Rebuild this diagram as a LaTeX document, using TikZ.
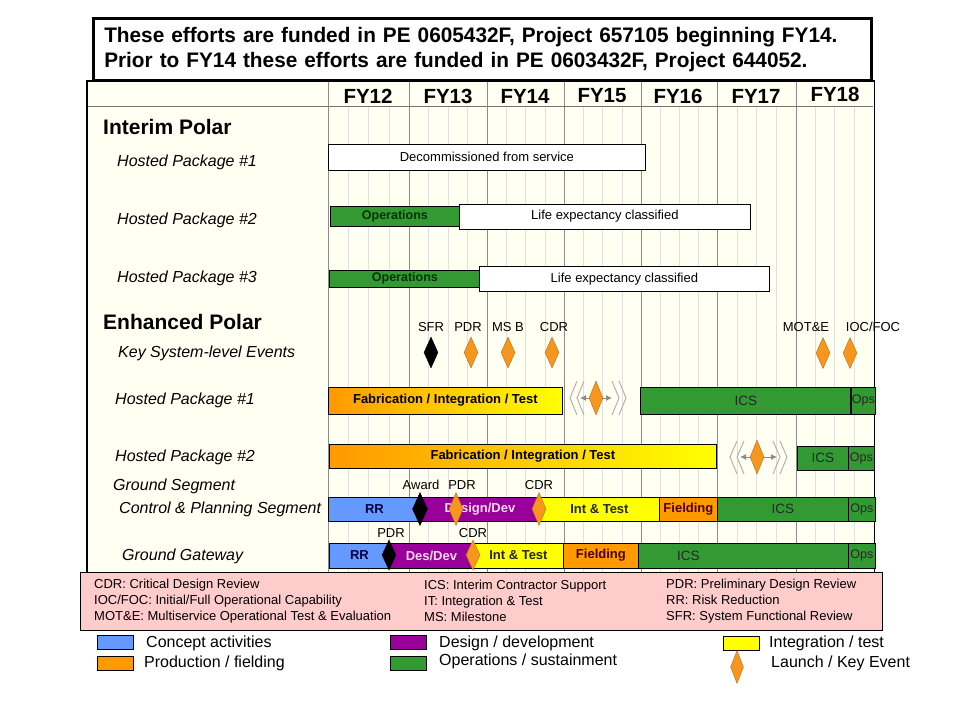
\documentclass[tikz,border=0pt]{standalone}
\usepackage{fontspec}
\setmainfont{Liberation Sans}
\newfontfamily\titlefont[FakeStretch=0.99]{Liberation Sans}
\usetikzlibrary{arrows.meta,positioning,shapes.geometric}
\definecolor{cream}{RGB}{255,255,242}
\definecolor{rrblue}{RGB}{102,153,255}
\definecolor{ddpurple}{RGB}{153,0,153}
\definecolor{ityellow}{RGB}{255,255,0}
\definecolor{pforange}{RGB}{255,153,0}
\definecolor{osgreen}{RGB}{51,153,51}
\definecolor{legpink}{RGB}{255,204,204}
\definecolor{evorange}{RGB}{247,150,30}

\begin{document}
\begin{tikzpicture}[x=1pt,y=-1pt,>=Latex,
  yrline/.style={draw=black!45,line width=0.7pt},
  qline/.style={draw=black!12,line width=0.5pt},
  fyhead/.style={font=\fontsize{20.5}{22}\selectfont\bfseries,inner sep=0pt},
  sect/.style={anchor=west,font=\fontsize{21}{23}\selectfont\bfseries,inner sep=0pt},
  rowlbl/.style={anchor=west,font=\fontsize{16}{18}\selectfont\itshape,inner sep=0pt},
  bar/.style={draw=black,line width=0.8pt,anchor=west,inner sep=0pt,font=\fontsize{13}{15}\selectfont\bfseries},
  wbar/.style={draw=black,line width=0.8pt,fill=white,anchor=west,inner sep=0pt,font=\fontsize{13}{15}\selectfont},
  plain/.style={font=\fontsize{13.5}{15}\selectfont,text=black!85},
  evt/.style={diamond,fill=evorange,draw=evorange!75!black,line width=0.4pt,inner sep=0pt,minimum width=14pt,minimum height=31pt},
  mst/.style={evt,fill=black,draw=black},
  evlbl/.style={font=\fontsize{13}{15}\selectfont,inner sep=0pt},
  chev/.style={draw=black!30,line width=1pt},
  legtxt/.style={anchor=west,align=left,font=\fontsize{13}{16}\selectfont,inner sep=0pt},
  keytxt/.style={anchor=west,font=\fontsize{16}{18}\selectfont,inner sep=0pt},
  swatch/.style={draw=black,line width=0.6pt,minimum width=36pt,minimum height=14pt,inner sep=0pt,anchor=west}]
\useasboundingbox (0,0) rectangle (960,720);

% funding note
\node[draw=black,line width=2.5pt,minimum width=778pt,minimum height=62pt,text width=756pt,align=left,anchor=north west,inner sep=0pt,font=\titlefont\fontsize{21}{25}\selectfont\bfseries] (note) at (92,17) {These efforts are funded in PE 0605432F, Project 657105 beginning FY14.\\Prior to FY14 these efforts are funded in PE 0603432F, Project 644052.};

% chart panel and grid
\node[fill=cream,minimum width=787pt,minimum height=491pt,anchor=north west,inner sep=0pt] (panel) at (87,81) {};
\foreach \xa/\xb in {328/409,409/487,487/564,564/641,641/717,717/796,796/873}
  \foreach \k in {1,2,3}
    \draw[qline] ({\xa+\k*(\xb-\xa)/4},106) -- ({\xa+\k*(\xb-\xa)/4},572);
\foreach \xa in {328,409,487,564,641,717,796}
  \draw[yrline] (\xa,81) -- (\xa,572);
\draw[draw=black!55,line width=1pt] (87,106) -- (873,106);
\draw[line width=1.6pt] (panel.north west) rectangle (panel.south east);
\foreach \yr/\xc in {12/368,13/448,14/525,15/602,16/678,17/756}
  \node[fyhead] (fy\yr) at (\xc,96) {FY\yr};
\node[fyhead] (fy18) at (835,94) {FY18};

% row labels
\node[sect] (ip) at (103,127) {Interim Polar};
\node[rowlbl] (ip_hp1) at (117,162) {Hosted Package \#1};
\node[rowlbl] (ip_hp2) at (117,220) {Hosted Package \#2};
\node[rowlbl] (ip_hp3) at (117,278) {Hosted Package \#3};
\node[sect] (ep) at (103,322) {Enhanced Polar};
\node[rowlbl] (ep_kse) at (118,353) {Key System-level Events};
\node[rowlbl] (ep_hp1) at (115,400) {Hosted Package \#1};
\node[rowlbl] (ep_hp2) at (115,457) {Hosted Package \#2};
\node[rowlbl] (ep_gs) at (113,486) {Ground Segment};
\node[rowlbl] (ep_cps) at (119,509) {Control \& Planning Segment};
\node[rowlbl] (ep_gg) at (122,556) {Ground Gateway};

% interim polar
\node[wbar,minimum width=317pt,minimum height=26pt] (ip1_dec) at (328,157) {Decommissioned from service};
\node[bar,fill=osgreen,text=black!80!green,minimum width=129pt,minimum height=20pt,font=\fontsize{12.5}{14}\selectfont\bfseries] (ip2_ops) at (330,216) {Operations};
\node[wbar,minimum width=291pt,minimum height=25pt] (ip2_life) at (459,216.5) {Life expectancy classified};
\node[bar,fill=osgreen,text=black!80!green,minimum width=151pt,minimum height=17pt,font=\fontsize{12.5}{14}\selectfont\bfseries] (ip3_ops) at (329,278.5) {Operations};
\node[wbar,minimum width=290pt,minimum height=25pt] (ip3_life) at (479,279) {Life expectancy classified};

% key system-level events
\node[evlbl] (sfr_t) at (431,327) {SFR};
\node[evlbl] (pdr_t) at (468,327) {PDR};
\node[evlbl] (msb_t) at (508,327) {MS B};
\node[evlbl] (cdr_t) at (554,327) {CDR};
\node[evlbl] (mote_t) at (806,327) {MOT\&E};
\node[evlbl] (iocfoc_t) at (873,327) {IOC/FOC};
\node[mst] (sfr) at (431,352.5) {};
\node[evt] (pdr) at (471,352.5) {};
\node[evt] (msb) at (508,352.5) {};
\node[evt] (cdr) at (552,352.5) {};
\node[evt] (mote) at (823,353) {};
\node[evt] (iocfoc) at (850,353) {};

% hosted package #1
\node[bar,left color=pforange,right color=ityellow,minimum width=234pt,minimum height=27pt] (hp1_fit) at (328,400.5) {Fabrication / Integration / Test};
\draw[chev] (577,381) -- (570,398) -- (577,415);
\draw[chev] (584,381) -- (577,398) -- (584,415);
\draw[chev] (612,381) -- (619,398) -- (612,415);
\draw[chev] (619,381) -- (626,398) -- (619,415);
\coordinate (hp1_l) at (580,398);
\coordinate (hp1_r) at (612,398);
\draw[{Latex[length=6pt,width=6pt]}-{Latex[length=6pt,width=6pt]},draw=black!45,line width=0.9pt] (hp1_l) -- (hp1_r);
\node[evt,minimum height=34pt] (hp1_lch) at (596,398) {};
\node[bar,plain,fill=osgreen,minimum width=211pt,minimum height=27pt] (hp1_ics) at (640,400.5) {ICS};
\node[bar,plain,fill=osgreen,minimum width=24pt,minimum height=27pt,font=\fontsize{12.5}{14}\selectfont] (hp1_ops) at (851,400.5) {Ops};
\draw[line width=1.8pt] (hp1_ops.north west) -- (hp1_ops.south west);

% hosted package #2
\node[bar,left color=pforange,right color=ityellow,minimum width=387pt,minimum height=24pt] (hp2_fit) at (329,456) {Fabrication / Integration / Test};
\draw[chev] (737,441) -- (730,457) -- (737,474);
\draw[chev] (744,441) -- (737,457) -- (744,474);
\draw[chev] (773,441) -- (780,457) -- (773,474);
\draw[chev] (780,441) -- (787,457) -- (780,474);
\coordinate (hp2_l) at (740,457);
\coordinate (hp2_r) at (777,457);
\draw[{Latex[length=6pt,width=6pt]}-{Latex[length=6pt,width=6pt]},draw=black!45,line width=0.9pt] (hp2_l) -- (hp2_r);
\node[evt,minimum height=34pt] (hp2_lch) at (757,457) {};
\node[bar,plain,fill=osgreen,minimum width=51pt,minimum height=24pt] (hp2_ics) at (797,458) {ICS};
\node[bar,plain,fill=osgreen,minimum width=26pt,minimum height=24pt,font=\fontsize{12.5}{14}\selectfont] (hp2_ops) at (848,458) {Ops};

% control & planning segment
\node[bar,fill=rrblue,text=blue!25!black,minimum width=92pt,minimum height=24pt] (cp_rr) at (328,509) {RR};
\node[bar,fill=ddpurple,text=magenta!15!white,minimum width=119pt,minimum height=24pt] (cp_dd) at (420,509) {Design/Dev};
\node[bar,fill=ityellow,text=black!85,minimum width=120pt,minimum height=24pt] (cp_it) at (539,509) {Int \& Test};
\node[bar,fill=pforange,text=red!30!black,minimum width=58pt,minimum height=24pt] (cp_fd) at (659,509) {Fielding};
\node[bar,plain,fill=osgreen,minimum width=131pt,minimum height=24pt] (cp_ics) at (717,509) {ICS};
\node[bar,plain,fill=osgreen,minimum width=27pt,minimum height=24pt,font=\fontsize{12.5}{14}\selectfont] (cp_ops) at (848,509) {Ops};
\node[evlbl] (cp_award_t) at (421,485) {Award};
\node[evlbl] (cp_pdr_t) at (462,485) {PDR};
\node[evlbl] (cp_cdr_t) at (539,485) {CDR};
\node[mst,minimum width=15pt,minimum height=33pt] (cp_award) at (420,509) {};
\node[evt,minimum height=33pt] (cp_pdr) at (456,509) {};
\node[evt,minimum height=33pt] (cp_cdr) at (539,509) {};

% ground gateway
\node[bar,fill=rrblue,text=blue!25!black,minimum width=60pt,minimum height=25pt] (gg_rr) at (329,555.5) {RR};
\node[bar,fill=ddpurple,text=magenta!15!white,minimum width=84pt,minimum height=25pt] (gg_dd) at (389,555.5) {Des/Dev};
\node[bar,fill=ityellow,text=black!85,minimum width=90pt,minimum height=25pt] (gg_it) at (473,555.5) {Int \& Test};
\node[bar,fill=pforange,text=red!30!black,minimum width=75pt,minimum height=25pt] (gg_fd) at (563,555.5) {Fielding};
\node[bar,plain,fill=osgreen,minimum width=210pt,minimum height=25pt] (gg_ics) at (638,555.5) {\hspace*{-110pt}ICS};
\node[bar,plain,fill=osgreen,minimum width=27pt,minimum height=25pt,font=\fontsize{12.5}{14}\selectfont] (gg_ops) at (848,555.5) {Ops};
\node[evlbl] (gg_pdr_t) at (391,533) {PDR};
\node[evlbl] (gg_cdr_t) at (473,533) {CDR};
\node[mst,minimum width=14pt,minimum height=30pt] (gg_pdr) at (389,555) {};
\node[evt,minimum height=30pt] (gg_cdr) at (473,555) {};

% abbreviations
\node[draw=black,fill=legpink,line width=0.8pt,minimum width=802pt,minimum height=58pt,anchor=north west,inner sep=0pt] (abbr) at (80,572) {};
\node[legtxt] (abbr_a) at (94,601) {CDR: Critical Design Review\\IOC/FOC: Initial/Full Operational Capability\\MOT\&E: Multiservice Operational Test \& Evaluation};
\node[legtxt] (abbr_b) at (424,601) {ICS: Interim Contractor Support\\IT: Integration \& Test\\MS: Milestone};
\node[legtxt] (abbr_c) at (666,601) {PDR: Preliminary Design Review\\RR: Risk Reduction\\SFR: System Functional Review};

% colour key
\node[swatch,fill=rrblue] (key_ca) at (97,642) {};
\node[keytxt] (key_ca_t) at (146,643) {Concept activities};
\node[swatch,fill=pforange] (key_pf) at (97,663) {};
\node[keytxt] (key_pf_t) at (144,663) {Production / fielding};
\node[swatch,fill=ddpurple] (key_dd) at (390,642) {};
\node[keytxt] (key_dd_t) at (439,643) {Design / development};
\node[swatch,fill=osgreen] (key_os) at (390,663) {};
\node[keytxt] (key_os_t) at (439,661) {Operations / sustainment};
\node[swatch,fill=ityellow] (key_it) at (723,643) {};
\node[keytxt] (key_it_t) at (769,643) {Integration / test};
\node[evt,minimum width=13pt,minimum height=33pt] (key_ev) at (737,667) {};
\node[keytxt] (key_ev_t) at (771,663) {Launch / Key Event};
\end{tikzpicture}
\end{document}
